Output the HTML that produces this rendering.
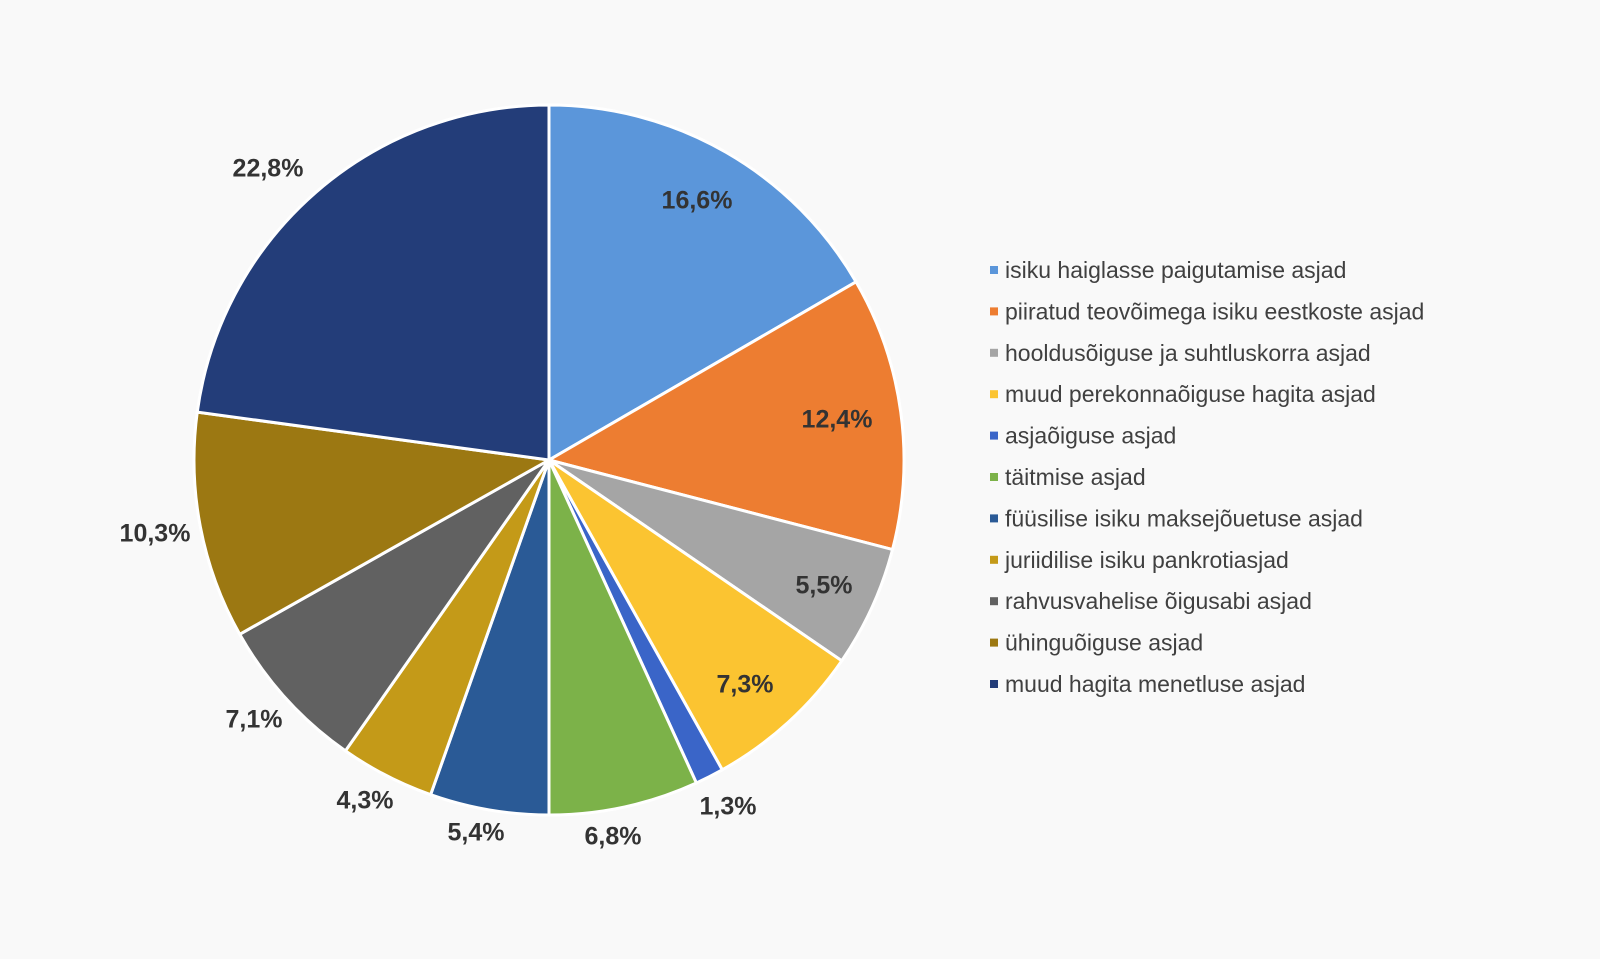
<!DOCTYPE html>
<html><head><meta charset="utf-8"><style>
html,body{margin:0;padding:0;background:#f9f9f9;}
svg{display:block;}
</style></head><body>
<svg id="s" width="1600" height="959" xmlns="http://www.w3.org/2000/svg" font-family="Liberation Sans, Arial, sans-serif">
<rect width="1600" height="959" fill="#f9f9f9"/>
<g id="pie"></g>
<g font-size="25" font-weight="bold" fill="#333" text-anchor="middle" dominant-baseline="middle">
<text x="697" y="202">16,6%</text>
<text x="837" y="421">12,4%</text>
<text x="824" y="587">5,5%</text>
<text x="745" y="686">7,3%</text>
<text x="728" y="808">1,3%</text>
<text x="613" y="838">6,8%</text>
<text x="476" y="834">5,4%</text>
<text x="365" y="802">4,3%</text>
<text x="254" y="721">7,1%</text>
<text x="155" y="535">10,3%</text>
<text x="268" y="170">22,8%</text>
</g>
<g id="leg" font-size="23" fill="#404040"></g>
</svg>
<script>
var vals=[16.6,12.4,5.5,7.3,1.3,6.8,5.4,4.3,7.1,10.3,22.8];
var cols=["#5B96DA","#ED7D31","#A5A5A5","#FBC431","#3A65C8","#7CB249","#2A5A96","#C49A18","#616161","#9C7812","#233D79"];
var names=["isiku haiglasse paigutamise asjad","piiratud teovõimega isiku eestkoste asjad","hooldusõiguse ja suhtluskorra asjad","muud perekonnaõiguse hagita asjad","asjaõiguse asjad","täitmise asjad","füüsilise isiku maksejõuetuse asjad","juriidilise isiku pankrotiasjad","rahvusvahelise õigusabi asjad","ühinguõiguse asjad","muud hagita menetluse asjad"];
var cx=549,cy=460,r=355,tot=vals.reduce((a,b)=>a+b,0),a=0,ns="http://www.w3.org/2000/svg";
var pie=document.getElementById("pie"),leg=document.getElementById("leg");
vals.forEach(function(v,i){
 var a2=a+v/tot*2*Math.PI;
 var x1=cx+r*Math.sin(a),y1=cy-r*Math.cos(a),x2=cx+r*Math.sin(a2),y2=cy-r*Math.cos(a2);
 var p=document.createElementNS(ns,"path");
 p.setAttribute("d","M"+cx+","+cy+"L"+x1+","+y1+"A"+r+","+r+" 0 "+((a2-a)>Math.PI?1:0)+" 1 "+x2+","+y2+"Z");
 p.setAttribute("fill",cols[i]);p.setAttribute("stroke","#fff");p.setAttribute("stroke-width","3");
 pie.appendChild(p);a=a2;
 var y=270+i*41.4;
 var rc=document.createElementNS(ns,"rect");
 rc.setAttribute("x",990);rc.setAttribute("y",y-4);rc.setAttribute("width",8);rc.setAttribute("height",8);rc.setAttribute("fill",cols[i]);
 leg.appendChild(rc);
 var t=document.createElementNS(ns,"text");
 t.setAttribute("x",1005);t.setAttribute("y",y+8);t.textContent=names[i];leg.appendChild(t);
});
</script>
</body></html>
